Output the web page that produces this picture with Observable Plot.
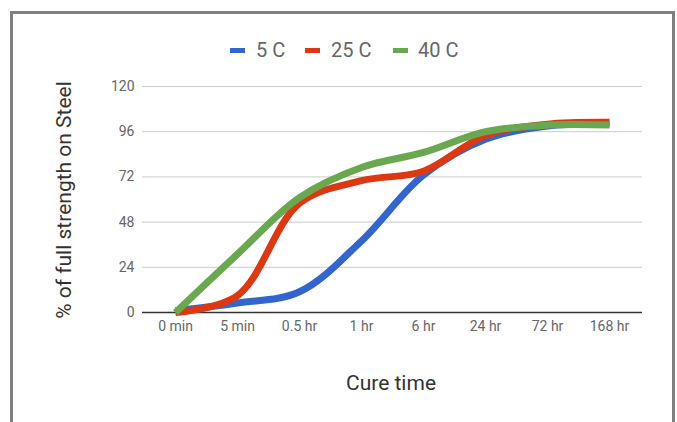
<!DOCTYPE html>
<html>
<head>
<meta charset="utf-8">
<script src="https://cdn.jsdelivr.net/npm/d3@7"></script>
<script src="https://cdn.jsdelivr.net/npm/@observablehq/plot@0.6"></script>
<style>
  html, body { margin: 0; padding: 0; background: #fff; }
  body { width: 677px; height: 422px; overflow: hidden; position: relative; font-family: Roboto, "Noto Sans", sans-serif; }
  #frame { position: absolute; left: 10px; top: 11px; width: 659px; height: 440px; border: 3px solid #808080; border-bottom: none; box-sizing: content-box; }
  #chart { position: absolute; left: 0; top: 0; }
  #legend { position: absolute; top: 36px; left: 0; width: 677px; height: 28px; }
  .lg { position: absolute; top: 0; font-size: 20px; color: #666; line-height: 28px; white-space: nowrap; }
  .sw { position: absolute; top: 12px; width: 15px; height: 5px; }
  #ytitle { position: absolute; left: 64px; top: 200px; transform: translate(-50%, -50%) rotate(-90deg); font-size: 21px; color: #333; white-space: nowrap; }
  #xtitle { position: absolute; left: 391px; top: 383px; transform: translate(-50%, -50%); font-size: 21px; color: #333; white-space: nowrap; }
</style>
</head>
<body>
<div id="frame"></div>
<div id="chart"></div>
<div id="legend"></div>
<div id="ytitle">% of full strength on Steel</div>
<div id="xtitle">Cure time</div>
<script>
const times = ["0 min", "5 min", "0.5 hr", "1 hr", "6 hr", "24 hr", "72 hr", "168 hr"];
const series = ["5 C", "25 C", "40 C"];
const colors = ["#3366cc", "#dc3912", "#6aa84f"];
const c5  = [1, 5, 11, 38, 73, 92, 99, 100];
const c25 = [0, 9, 58, 70, 75, 94, 100, 101];
const c40 = [0, 31, 61, 77, 85, 96, 99.5, 99.5];
const yTicks = [0, 24, 48, 72, 96, 120];

const values = [c5, c25, c40];
const data = [];
series.forEach((s, i) => times.forEach((t, j) => data.push({series: s, time: t, value: values[i][j]})));

const chart = Plot.plot({
  width: 677,
  height: 422,
  marginLeft: 142,
  marginRight: 35,
  marginTop: 86,
  marginBottom: 110,
  style: {fontFamily: "Roboto, sans-serif", background: "transparent"},
  x: {type: "point", domain: times, padding: 0.5, label: null},
  y: {domain: [0, 120], label: null},
  color: {domain: series, range: colors},
  marks: [
    Plot.ruleY(yTicks.filter(d => d > 0), {stroke: "#cccccc", strokeWidth: 1}),
    Plot.ruleY([0], {stroke: "#333", strokeWidth: 1.5}),
    Plot.axisY({ticks: yTicks, tickSize: 0, tickPadding: 8, fontSize: 14, fill: "#666", label: null}),
    Plot.axisX({tickSize: 0, tickPadding: 9, fontSize: 14, fill: "#666", label: null}),
    Plot.line(data, {x: "time", y: "value", stroke: "series", z: "series", strokeWidth: 7, curve: "catmull-rom", strokeLinecap: "butt", strokeLinejoin: "round"})
  ]
});
document.getElementById("chart").appendChild(chart);

// legend
const legend = document.getElementById("legend");
const swX = [230, 305, 393];
const txX = [256, 331, 418];
series.forEach((s, i) => {
  const sw = document.createElement("div");
  sw.className = "sw";
  sw.style.left = swX[i] + "px";
  sw.style.background = colors[i];
  legend.appendChild(sw);
  const t = document.createElement("div");
  t.className = "lg";
  t.style.left = txX[i] + "px";
  t.textContent = s;
  legend.appendChild(t);
});
</script>
</body>
</html>
